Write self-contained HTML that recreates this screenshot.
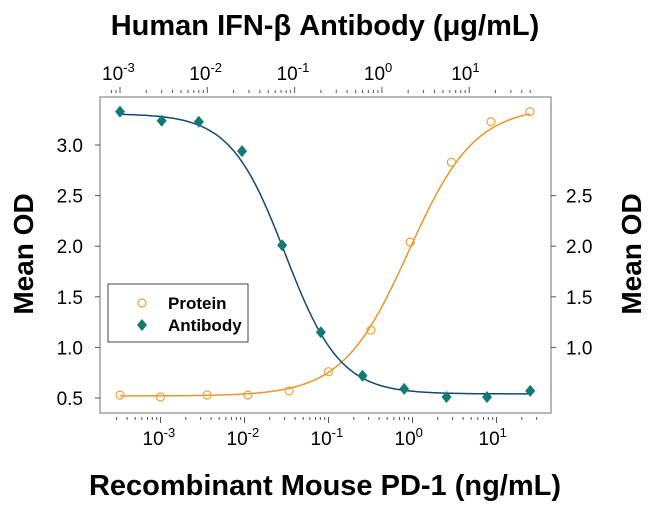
<!DOCTYPE html>
<html><head><meta charset="utf-8"><style>
body{margin:0;background:#fff;}
svg{display:block;font-family:"Liberation Sans",Arial,sans-serif;}
</style></head><body>
<svg id="chart" width="650" height="506" viewBox="0 0 650 506">
<g id="axes"></g><g id="marks"></g>
<text x="325" y="35" text-anchor="middle" font-size="29" font-weight="bold">Human IFN-β Antibody (μg/mL)</text>
<text x="325" y="495" text-anchor="middle" font-size="29" font-weight="bold">Recombinant Mouse PD-1 (ng/mL)</text>
<text transform="translate(33,254) rotate(-90)" text-anchor="middle" font-size="28" font-weight="bold">Mean OD</text>
<text transform="translate(641,254) rotate(-90)" text-anchor="middle" font-size="28" font-weight="bold">Mean OD</text>
<g>
<rect x="108" y="284" width="140" height="58" fill="#fff" stroke="#444" stroke-width="1"/>
<circle cx="142" cy="303" r="4" fill="none" stroke="#e8a33a" stroke-width="1.2"/>
<text x="168" y="309" font-size="17" font-weight="bold">Protein</text>
<path d="M142,319 L147,325 L142,331 L137,325 Z" fill="#127a74"/>
<text x="168" y="331" font-size="17" font-weight="bold">Antibody</text>
</g>
</svg>
<script>
const proteinX=[0.00033,0.001,0.0036,0.011,0.034,0.1,0.32,0.94,2.9,8.6,25];
const proteinY=[0.53,0.51,0.53,0.53,0.57,0.76,1.17,2.04,2.83,3.23,3.33];
const antibodyX=[0.001,0.003,0.008,0.025,0.072,0.2,0.6,1.8,5.5,16,50];
const antibodyY=[3.33,3.24,3.23,2.94,2.01,1.15,0.72,0.59,0.51,0.51,0.57];
const proteinFit=[0.52,3.38,0.9,1.1];
const antibodyFit=[0.54,3.31,0.078,1.38];
const leftTicks=[0.5,1.0,1.5,2.0,2.5,3.0];
const rightTicks=[1.0,1.5,2.0,2.5];
const bottomDecades=[-3,-2,-1,0,1];
const topDecades=[-3,-2,-1,0,1];

const NS="http://www.w3.org/2000/svg";
const L=100,R=551,T=97,B=413;
const xB=v=>160.5+84*(Math.log10(v)+3);
const xT=v=>120+87.3*(Math.log10(v)+3);
const y=v=>398-(v-0.5)*101.2;
const axes=document.getElementById('axes'),marks=document.getElementById('marks');
function mk(tag,at,p){const e=document.createElementNS(NS,tag);for(const k in at)e.setAttribute(k,at[k]);p.appendChild(e);return e;}
const frame=mk('rect',{x:L,y:T,width:R-L,height:B-T,fill:'none',stroke:'#888','stroke-width':1.2},axes);


function logTicks(fx,lo,hi,yy,dir){
  for(let d=-5;d<3;d++)for(let m=1;m<10;m++){const v=m*Math.pow(10,d);if(v<lo||v>hi)continue;
    const x=fx(v);const len=m===1?6:3;
    mk('line',{x1:x,x2:x,y1:yy,y2:yy+dir*len,stroke:'#555','stroke-width':1},axes);}
}
logTicks(xB,0.00023,38,B+4,1);
logTicks(xT,0.00078,56,T-4,-1);
function decLabel(x,yy,d,name){
  const t=mk('text',{x:x-18,y:yy,'text-anchor':'start','font-size':19},axes);
  
  
  t.innerHTML='10<tspan dy="-8" font-size="13">'+d+'</tspan>';
}
bottomDecades.forEach(d=>decLabel(xB(Math.pow(10,d)),445,d,'x-tick-label'));
topDecades.forEach(d=>decLabel(xT(Math.pow(10,d)),80,d,'top-x-tick-label'));
leftTicks.forEach(v=>{mk('line',{x1:L,x2:L-5,y1:y(v),y2:y(v),stroke:'#555'},axes);
  const t=mk('text',{x:L-17,y:y(v)+7,'text-anchor':'end','font-size':19},axes);t.textContent=v.toFixed(1);
  
  });
rightTicks.forEach(v=>{mk('line',{x1:R,x2:R+5,y1:y(v),y2:y(v),stroke:'#555'},axes);
  const t=mk('text',{x:R+15,y:y(v)+7,'text-anchor':'start','font-size':19},axes);t.textContent=v.toFixed(1);
  
  });
function fitPath(p,fx,lo,hi,inc){let d='';for(let i=0;i<=200;i++){const lv=Math.log10(lo)+(Math.log10(hi)-Math.log10(lo))*i/200;const v=Math.pow(10,lv);
  const r=Math.pow(v/p[2],p[3]);const o=inc?p[0]+(p[1]-p[0])*r/(1+r):p[0]+(p[1]-p[0])/(1+r);
  d+=(i?'L':'M')+fx(v).toFixed(1)+','+y(o).toFixed(1);}return d;}
const pc=mk('path',{d:fitPath(proteinFit,xB,proteinX[0],proteinX[proteinX.length-1],true),fill:'none',stroke:'#e8962a','stroke-width':1.5},marks);


const ac=mk('path',{d:fitPath(antibodyFit,xT,antibodyX[0],antibodyX[antibodyX.length-1],false),fill:'none',stroke:'#0f4a78','stroke-width':1.5},marks);


proteinX.forEach((v,i)=>{const c=mk('circle',{cx:xB(v),cy:y(proteinY[i]),r:4,fill:'none',stroke:'#e8a33a','stroke-width':1.2},marks);
  
  });
antibodyX.forEach((v,i)=>{const x=xT(v),yy=y(antibodyY[i]);
  const p=mk('path',{d:`M${x},${yy-6}L${x+5},${yy}L${x},${yy+6}L${x-5},${yy}Z`,fill:'#127a74'},marks);
  
  });
</script>
</body></html>
